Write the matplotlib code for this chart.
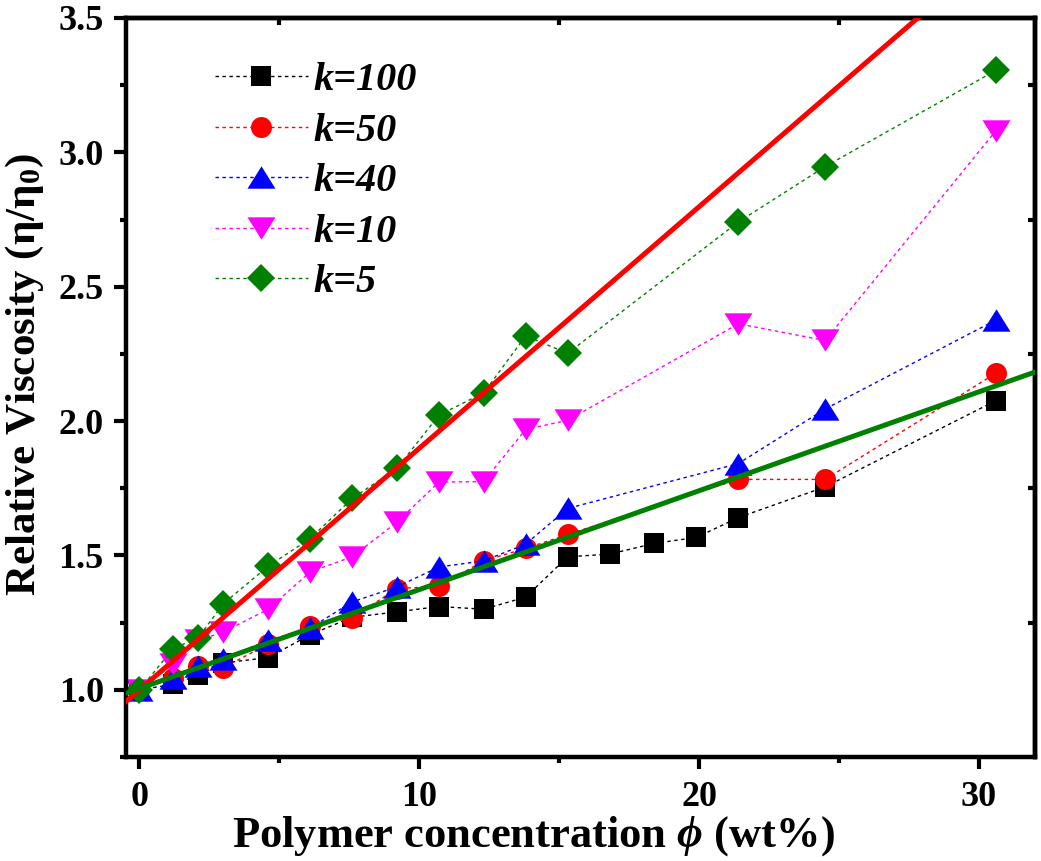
import numpy as np
import matplotlib
matplotlib.use("Agg")
import matplotlib.pyplot as plt
from matplotlib.ticker import MultipleLocator, FixedLocator

plt.rcParams["font.family"] = ["Liberation Serif", "DejaVu Serif"]
plt.rcParams["font.weight"] = "bold"
plt.rcParams["mathtext.fontset"] = "custom"
plt.rcParams["mathtext.rm"] = "Liberation Serif"
plt.rcParams["mathtext.it"] = "Liberation Serif:italic:bold"
plt.rcParams["mathtext.bf"] = "Liberation Serif:bold"

# polymer concentration (wt%)
x_full = [0, 1.2, 2.1, 3.0, 4.6, 6.1, 7.6, 9.2, 10.7, 12.3, 13.8, 15.3,
          16.8, 18.4, 19.9, 21.4, 24.5, 30.6]
x_part = [0, 1.2, 2.1, 3.0, 4.6, 6.1, 7.6, 9.2, 10.7, 12.3, 13.8, 15.3,
          21.4, 24.5, 30.6]

# relative viscosity for each k
k100 = [1.0, 1.02, 1.055, 1.10, 1.12, 1.205, 1.27, 1.29, 1.31, 1.30, 1.345, 1.495,
        1.505, 1.545, 1.567, 1.641, 1.755, 2.076]
k50 = [1.0, 1.045, 1.088, 1.083, 1.17, 1.237, 1.268, 1.377, 1.385, 1.48, 1.526, 1.578,
       1.783, 1.783, 2.178]
k40 = [1.0, 1.045, 1.09, 1.116, 1.184, 1.23, 1.327, 1.383, 1.457, 1.48, 1.542, 1.675,
       1.842, 2.045, 2.376]
k10 = [1.0, 1.095, 1.184, 1.215, 1.30, 1.439, 1.495, 1.624, 1.773, 1.775, 1.969, 2.003,
       2.362, 2.30, 3.08]
k5 = [1.0, 1.153, 1.194, 1.321, 1.46, 1.563, 1.712, 1.824, 2.022, 2.105, 2.317, 2.252,
      2.741, 2.947, 3.305]

# linear fits: (intercept, slope)
fit_upper = (1.0, 0.0899)
fit_lower = (1.005, 0.0368)

px = 100 / 72  # pixels per point at dpi 100

fig = plt.figure(figsize=(10.41, 8.61), dpi=100)
ax = fig.add_axes([125.5 / 1041, 1 - 757 / 861, (1035 - 125.5) / 1041, (757 - 18) / 861])

tri_up = [(-1, -0.8), (1, -0.8), (0, 0.8)]
tri_dn = [(-1, 0.8), (1, 0.8), (0, -0.8)]

series = [
    (x_full, k100, "k=100", "black", "s", 20 / px),
    (x_part, k50, "k=50", "#ff0000", "o", 21 / px),
    (x_part, k40, "k=40", "#0000ff", tri_up, 28 / px),
    (x_part, k10, "k=10", "#ff00ff", tri_dn, 28 / px),
    (x_part, k5, "k=5", "#008000", "D", 20.5 / px),
]
for xs, ys, lab, col, mk, ms in series:
    ax.plot(xs, ys, color=col, lw=1.0, linestyle=(0, (2.5, 2.5)),
            marker=mk, markersize=ms, markeredgewidth=0, label=lab)

xlim = (-0.5, 32)
xf = np.array(xlim)
ax.plot(xf, fit_upper[0] + fit_upper[1] * xf, color="#ff0000", lw=3.6, zorder=5)
ax.plot(xf, fit_lower[0] + fit_lower[1] * xf, color="#008000", lw=3.6, zorder=5)

ax.set_xlim(*xlim)
ax.set_ylim(0.75, 3.5)
ax.xaxis.set_major_locator(MultipleLocator(10))
ax.xaxis.set_minor_locator(MultipleLocator(5))
ax.yaxis.set_major_locator(MultipleLocator(0.5))
ax.yaxis.set_minor_locator(MultipleLocator(0.25))
ax.set_yticks([1.0, 1.5, 2.0, 2.5, 3.0, 3.5])

for s in ax.spines.values():
    s.set_linewidth(3.2)
ax.tick_params(which="major", direction="out", length=8.6, width=3, labelsize=26, pad=7)
ax.tick_params(which="minor", direction="out", length=4.5, width=3)
ax.tick_params(axis="x", which="major", pad=9)

# mirrored minor ticks on top and right pointing inward
top = ax.secondary_xaxis("top")
top.set_xticks([])
top.xaxis.set_minor_locator(FixedLocator([5, 15, 25]))
top.tick_params(which="minor", direction="in", length=5, width=3)
top.spines["top"].set_linewidth(3.2)
right = ax.secondary_yaxis("right")
right.set_yticks([])
right.yaxis.set_minor_locator(FixedLocator([1.25, 1.75, 2.25, 2.75, 3.25]))
right.tick_params(which="minor", direction="in", length=5, width=3)
right.spines["right"].set_linewidth(3.2)

ax.set_xlabel(r"Polymer concentration $\mathit{\phi}$ (wt%)", fontsize=32,
              fontweight="bold")
ax.set_ylabel(r"Relative Viscosity $(\mathrm{\eta/\eta_0})$", fontsize=31,
              fontweight="bold")
ax.xaxis.set_label_coords(0.449, -0.077)
ax.yaxis.set_label_coords(-0.087, 0.518)

leg = ax.legend(loc="upper left", bbox_to_anchor=(215 / 1041, 1 - 62 / 861),
                bbox_transform=fig.transFigure, frameon=False, borderpad=0,
                borderaxespad=0, handlelength=2.3, handletextpad=0.15,
                labelspacing=0.33, prop={"size": 29, "weight": "bold", "style": "italic"})

fig.savefig("out.png", dpi=100)
